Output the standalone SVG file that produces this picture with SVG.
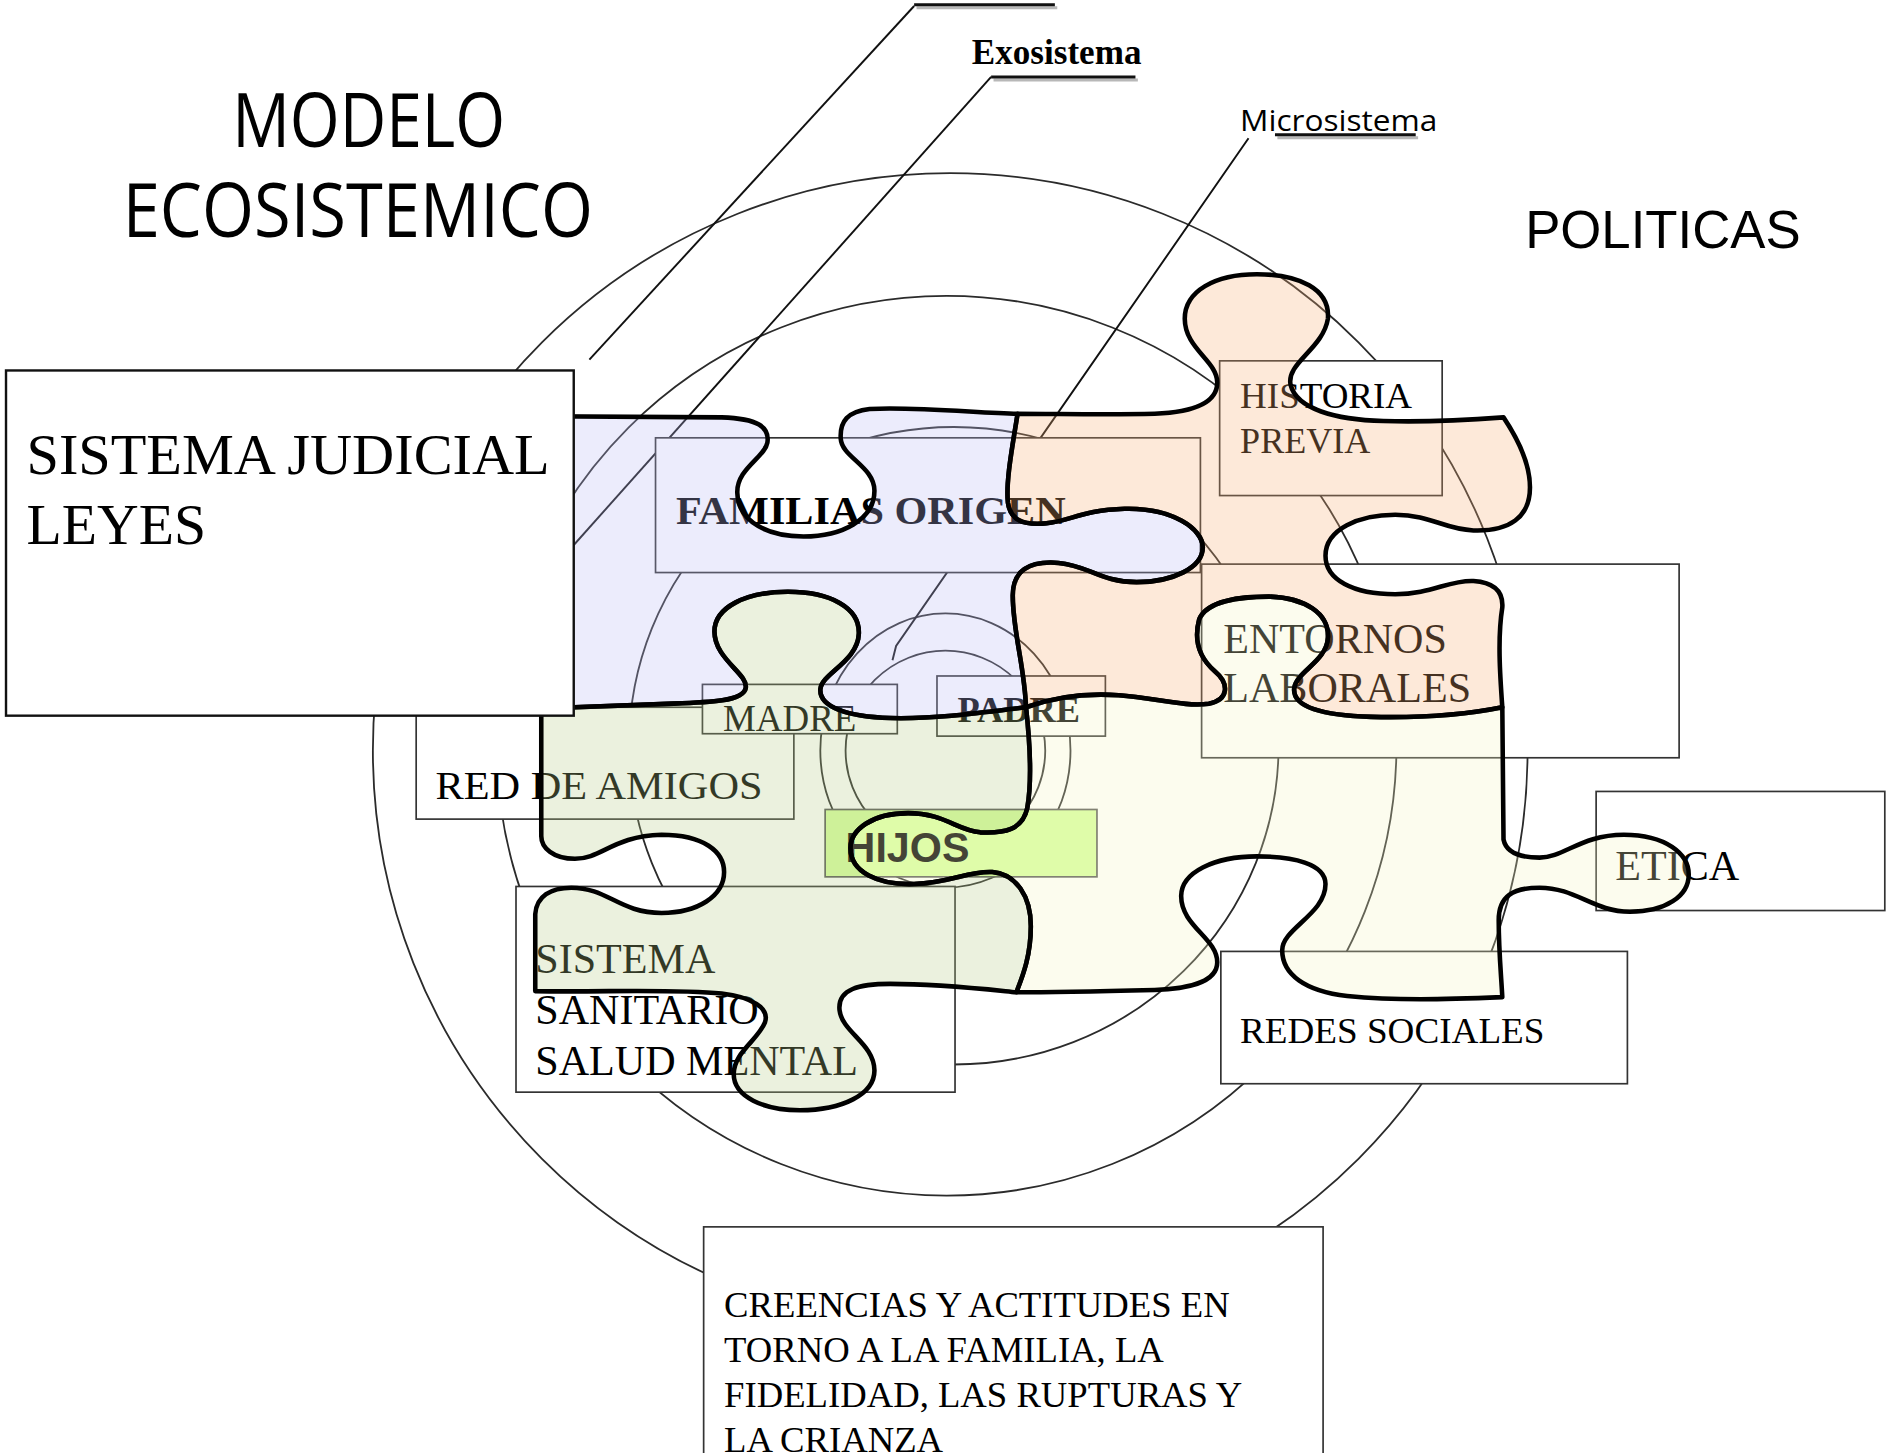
<svg xmlns="http://www.w3.org/2000/svg" width="1886" height="1453" viewBox="0 0 1886 1453">
<style>
.circ{fill:none;stroke:#2b2b2b;stroke-width:1.5}
.ptr{fill:none;stroke:#111;stroke-width:1.6}
.ul{fill:none;stroke:#111;stroke-width:2.4}
.uls{fill:none;stroke:#b8b8b8;stroke-width:2.4}
.box{fill:#fff;stroke:#333;stroke-width:1.4}
.serif{font-family:"Liberation Serif","Times New Roman",serif;fill:#000}
.bold{font-weight:bold}
.sans{font-family:"Liberation Sans",Arial,sans-serif;fill:#000}
.calib{font-family:"Open Sans","Noto Sans",sans-serif;fill:#000}
.piece{stroke:#000;stroke-width:3.8;stroke-linejoin:round;fill-opacity:0.28}
</style>
<rect width="1886" height="1453" fill="#fff"/>
<g transform="scale(1.20281)">
  <g id="circulos">
    <circle class="circ" cx="790" cy="624" r="480"/>
    <circle class="circ" cx="787" cy="620" r="374"/>
    <ellipse class="circ" cx="793" cy="620" rx="270" ry="265"/>
    <ellipse class="circ" cx="786" cy="624" rx="104" ry="114"/>
    <circle class="circ" cx="786" cy="624" r="83"/>
  </g>
  <g id="connectors">
    <path class="ptr" d="M760,5 L490,299"/>
    <path class="ptr" d="M824,64 L470,461"/>
    <path class="ptr" d="M1038,115 L745,537 L742,549"/>
    <path class="uls" d="M762,6.5 L879,6.5 M826,66.5 L946,66.5 M1062,114.5 L1179,114.5"/>
    <path class="ul" d="M760,4 L877,4 M824,64 L944,64 M1060,112 L1177,112"/>
  </g>
  <g id="red-de-amigos">
    <rect class="box" x="346" y="588" width="314" height="93"/>
    <text class="serif" x="362" y="664" font-size="34" textLength="272" lengthAdjust="spacingAndGlyphs">RED DE AMIGOS</text>
  </g>
  <g id="familias-origen">
    <rect class="box" x="545" y="364" width="453" height="112"/>
    <text class="serif bold" x="562" y="436" font-size="34" textLength="324" lengthAdjust="spacingAndGlyphs">FAMILIAS ORIGEN</text>
  </g>
  <g id="madre">
    <rect class="box" x="584" y="569" width="162" height="41"/>
    <text class="serif" x="601" y="608" font-size="32" textLength="111" lengthAdjust="spacingAndGlyphs">MADRE</text>
  </g>
  <g id="padre">
    <rect class="box" x="779" y="562" width="140" height="50"/>
    <text class="serif bold" x="796" y="600" font-size="30" textLength="102" lengthAdjust="spacingAndGlyphs">PADRE</text>
  </g>
  <g id="hijos">
    <rect x="686" y="673" width="226" height="56" fill="#d7ffa0" stroke="#555" stroke-width="1.4"/>
    <text class="sans bold" x="703" y="717" font-size="36" textLength="103" lengthAdjust="spacingAndGlyphs">HIJOS</text>
  </g>
  <g id="historia-previa">
    <rect class="box" x="1014" y="300" width="185" height="112"/>
    <text class="serif" x="1031" y="339" font-size="30" textLength="143" lengthAdjust="spacingAndGlyphs">HISTORIA</text>
    <text class="serif" x="1031" y="377" font-size="30">PREVIA</text>
  </g>
  <g id="entornos-laborales">
    <rect class="box" x="999" y="469" width="397" height="161"/>
    <text class="serif" x="1017" y="543" font-size="35">ENTORNOS</text>
    <text class="serif" x="1017" y="584" font-size="35">LABORALES</text>
  </g>
  <g id="etica">
    <rect class="box" x="1327" y="658" width="240" height="99"/>
    <text class="serif" x="1343" y="732" font-size="35">ETICA</text>
  </g>
  <g id="redes-sociales">
    <rect class="box" x="1015" y="791" width="338" height="110"/>
    <text class="serif" x="1031" y="867" font-size="29.5" textLength="253" lengthAdjust="spacingAndGlyphs">REDES SOCIALES</text>
  </g>
  <g id="sistema-sanitario">
    <rect class="box" x="429" y="737" width="365" height="171"/>
    <text class="serif" x="445" y="809" font-size="35">SISTEMA</text>
    <text class="serif" x="445" y="851" font-size="35">SANITARIO</text>
    <text class="serif" x="445" y="894" font-size="35">SALUD MENTAL</text>
  </g>
  <g id="creencias">
    <rect class="box" x="585" y="1020" width="515" height="200" stroke="#111"/>
    <text class="serif" x="602" y="1095" font-size="30.5">CREENCIAS Y ACTITUDES EN</text>
    <text class="serif" x="602" y="1132" font-size="30.5">TORNO A LA FAMILIA, LA</text>
    <text class="serif" x="602" y="1170" font-size="30.5">FIDELIDAD, LAS RUPTURAS Y</text>
    <text class="serif" x="602" y="1207" font-size="30.5">LA CRIANZA</text>
  </g>
  <g id="pieza-azul">
    <path class="piece" fill="rgb(187,187,244)" d="M450,346 L600,347 C630,348 640,355 638,368 C636,380 612,390 613,410 C614,435 640,446 668,446 C700,446 727,432 727,408 C727,388 700,380 699,365 C698,350 705,342 723,340 C760,338 810,343 846,344 C842,370 836,400 838,418 C840,432 850,437 870,435 C890,433 900,424 935,423 C975,422 1000,440 1000,455 C1000,472 975,484 945,484 C915,484 905,470 880,468 C855,466 842,475 842,495 C842,525 852,555 853,588 C820,592 780,598 740,597 C705,596 681,588 682,573 C683,560 713,550 714,527 C715,505 690,492 655,492 C620,492 594,505 594,525 C594,548 622,560 620,572 C618,583 590,584 560,585 L450,589 Z"/>
  </g>
  <g id="pieza-naranja">
    <path class="piece" fill="rgb(248,176,119)" d="M846,344 C842,370 836,400 838,418 C840,432 850,437 870,435 C890,433 900,424 935,423 C975,422 1000,440 1000,455 C1000,472 975,484 945,484 C915,484 905,470 880,468 C855,466 842,475 842,495 C842,525 852,555 853,588 C875,580 900,576 930,578 C960,580 985,588 1005,585 C1022,582 1022,568 1010,558 C995,545 993,530 997,515 C1003,500 1030,496 1055,496 C1085,497 1105,510 1104,530 C1103,550 1078,558 1076,572 C1074,588 1100,595 1140,596 C1185,597 1220,594 1249,588 C1247,560 1245,530 1249,505 C1250,490 1240,484 1225,483 C1205,482 1190,494 1160,494 C1125,494 1102,482 1102,462 C1102,440 1130,428 1160,428 C1190,428 1200,440 1225,441 C1255,442 1272,430 1272,405 C1272,385 1262,365 1250,347 C1210,350 1180,351 1150,350 C1110,349 1078,340 1073,320 C1069,302 1100,290 1104,265 C1106,240 1080,228 1045,228 C1010,228 985,242 985,265 C985,290 1012,300 1012,318 C1012,338 985,343 960,344 C920,345 880,344 846,344 Z"/>
  </g>
  <g id="pieza-amarilla">
    <path class="piece" fill="rgb(244,244,194)" d="M853,588 C875,580 900,576 930,578 C960,580 985,588 1005,585 C1022,582 1022,568 1010,558 C995,545 993,530 997,515 C1003,500 1030,496 1055,496 C1085,497 1105,510 1104,530 C1103,550 1078,558 1076,572 C1074,588 1100,595 1140,596 C1185,597 1220,594 1249,588 L1250,698 C1252,708 1262,713 1280,713 C1300,713 1315,694 1350,694 C1385,694 1404,710 1404,727 C1404,745 1385,758 1355,758 C1325,758 1310,738 1280,738 C1258,738 1246,745 1246,765 C1246,790 1248,810 1249,829 C1200,831 1160,832 1120,828 C1085,824 1066,810 1066,790 C1066,772 1102,760 1102,735 C1102,718 1075,712 1045,712 C1010,712 982,725 982,745 C982,770 1012,780 1012,800 C1012,818 985,822 960,823 C920,824 880,825 845,825 C850,812 857,795 857,770 C857,745 845,727 825,725 C805,724 790,734 760,735 C730,736 707,725 707,705 C707,690 725,676 755,676 C785,676 795,690 815,692 C835,693 850,690 854,672 C858,650 856,615 853,588 Z"/>
  </g>
  <g id="pieza-verde">
    <path class="piece" fill="rgb(184,205,137)" d="M450,589 L560,585 C590,584 618,583 620,572 C622,560 594,548 594,525 C594,505 620,492 655,492 C690,492 715,505 714,527 C713,550 683,560 682,573 C681,588 705,596 740,597 C780,598 820,592 853,588 C856,615 858,650 854,672 C850,690 835,693 815,692 C795,690 785,676 755,676 C725,676 707,690 707,705 C707,725 730,736 760,735 C790,734 805,724 825,725 C845,727 857,745 857,770 C857,795 850,812 845,825 C815,822 780,818 740,818 C715,818 696,822 698,840 C700,858 727,868 727,890 C727,910 700,923 665,923 C635,923 610,912 610,893 C610,875 630,865 636,850 C640,838 625,829 600,826 C560,822 500,825 445,824 L445,760 C446,745 458,738 475,738 C505,738 515,759 550,759 C580,759 602,745 602,725 C602,708 585,694 550,694 C510,695 500,714 478,714 C460,714 450,705 450,695 L450,589 Z"/>
  </g>
  <g id="sistema-judicial">
    <rect x="5" y="308" width="472" height="287" fill="#fff" stroke="#111" stroke-width="2"/>
    <text class="serif" x="22" y="394" font-size="48" textLength="435" lengthAdjust="spacingAndGlyphs">SISTEMA JUDICIAL</text>
    <text class="serif" x="22" y="452" font-size="48">LEYES</text>
  </g>
  <g id="titulo">
    <text class="calib" x="193" y="122" font-size="62" textLength="227" lengthAdjust="spacingAndGlyphs">MODELO</text>
    <text class="calib" x="102" y="197" font-size="62" textLength="391" lengthAdjust="spacingAndGlyphs">ECOSISTEMICO</text>
  </g>
  <g id="politicas">
    <text class="sans" x="1268" y="206" font-size="44" textLength="229" lengthAdjust="spacingAndGlyphs">POLITICAS</text>
  </g>
  <g id="exosistema">
    <text class="serif bold" x="808" y="53" font-size="29" textLength="141" lengthAdjust="spacingAndGlyphs">Exosistema</text>
  </g>
  <g id="microsistema">
    <text class="calib" x="1031" y="109" font-size="24" textLength="164" lengthAdjust="spacingAndGlyphs">Microsistema</text>
  </g>
</g>
</svg>
